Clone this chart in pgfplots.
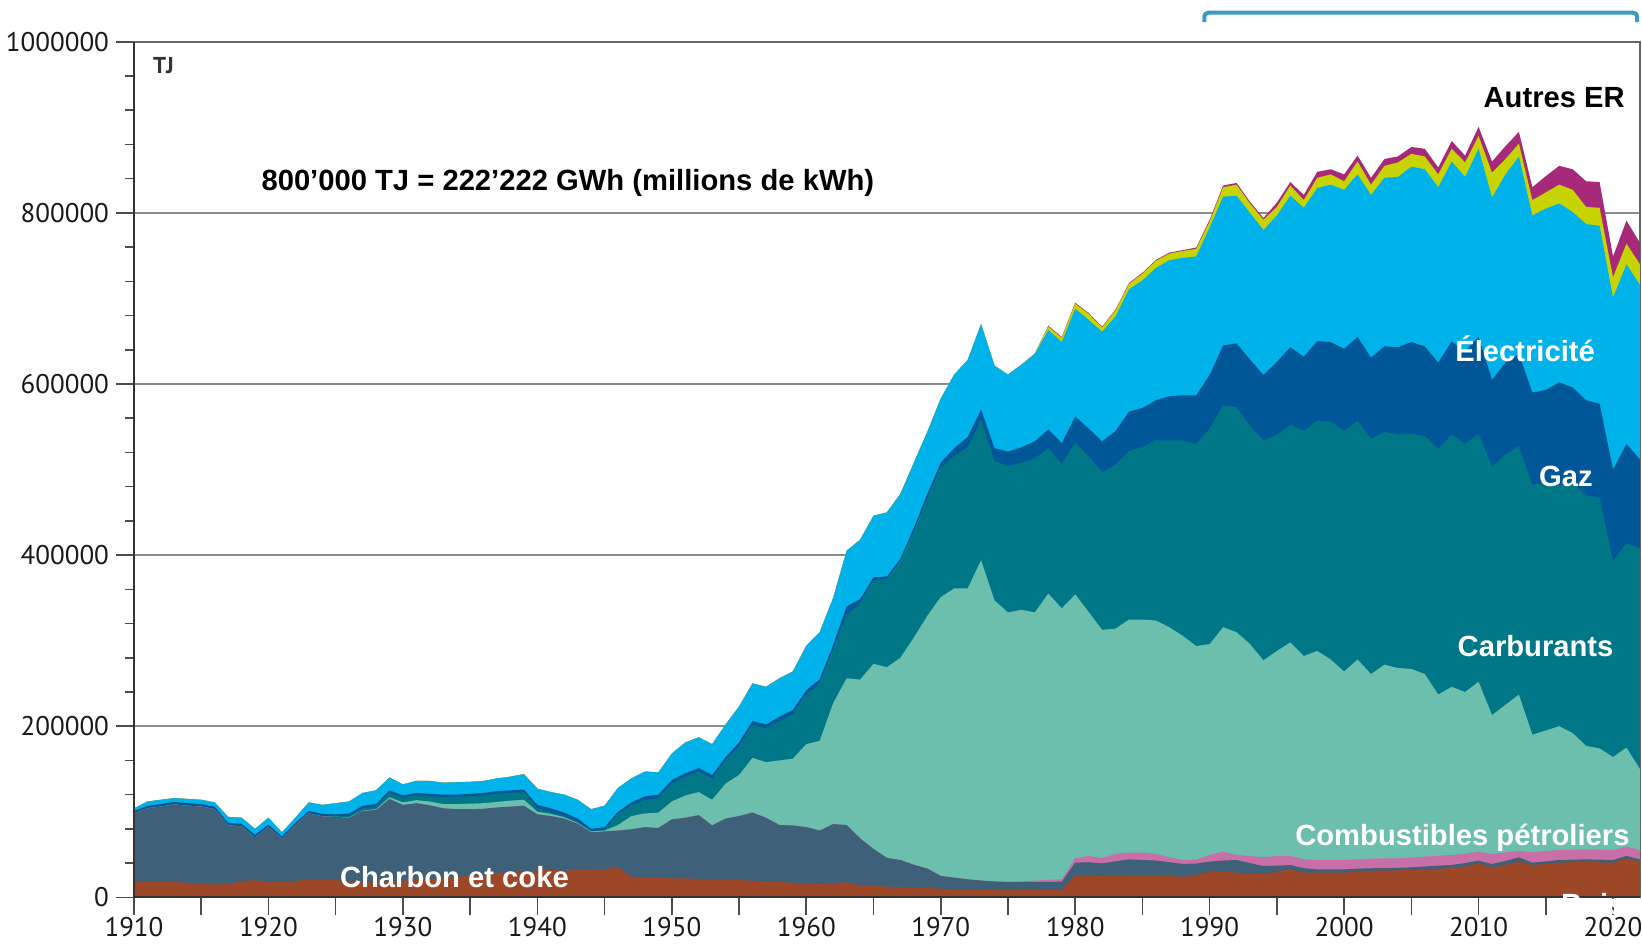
\documentclass[border=0pt]{standalone}
\usepackage{fontspec}
\setmainfont{Liberation Sans}
\newfontfamily\tickfont{PT Sans}
\usepackage{pgfplots}
\usepackage{pgfplotstable}
\pgfplotsset{compat=1.18}

\definecolor{cB}{HTML}{9C4727}
\definecolor{cC}{HTML}{3E6078}
\definecolor{cP}{HTML}{C86FA8}
\definecolor{cO}{HTML}{6CBFAC}
\definecolor{cT}{HTML}{007787}
\definecolor{cG}{HTML}{005797}
\definecolor{cE}{HTML}{00B2EA}
\definecolor{cF}{HTML}{C8D400}
\definecolor{cR}{HTML}{A6297A}
\definecolor{cBr}{HTML}{3A9AC2}

% cumulative tops, thousands of TJ
\pgfplotstableread{
year B C P O T G E F R
1910 18 98 98 98 98 101 104 104 104
1911 18.5 104 104 104 104 107 112 112 112
1912 18.5 106 106 106 106 109 114 114 114
1913 18 108.5 108.5 108.5 108.5 111.5 116 116 116
1914 17 107 107 107 107 110 115 115 115
1915 16 106 106 106 106 109 114 114 114
1916 15 103 103 103 103 106 111 111 111
1917 15.5 84 84 84 84 87 94 94 94
1918 19 83 83 83 83 86 93 93 93
1919 20 70 70 70 70 73 80 80 80
1920 18.5 82 82 82 82 85 93 93 93
1921 17.5 68.5 68.5 68.5 68.5 71 76 76 76
1922 19 84 84 84 84 87 93 93 93
1923 21 98 98 98 98.5 101 111 111 111
1924 20.5 94.5 94.5 94.5 95 97.5 108 108 108
1925 20 94 94 94 95 97 110 110 110
1926 19 93 93 93.5 95 98 112 112 112
1927 18 101 101 101.5 104 107 122 122 122
1928 18 102 102 103 106 109 125 125 125
1929 19 115 115 117 122 125 140 140 140
1930 19.5 108 108 111 116 119 132 132 132
1931 20 110 110 113.5 119 122 136 136 136
1932 21 107.5 107.5 112 118 121 136 136 136
1933 23 104 104 109 117 120 134 134 134
1934 24 103 103 109 117 120 134.5 134.5 134.5
1935 25 103 103 109.5 118 121 135 135 135
1936 26 103.5 103.5 110 119 122 136 136 136
1937 28 105 105 111.5 121 124 139 139 139
1938 30 106 106 113 122 125 141 141 141
1939 30 107 107 114 123 126 144 144 144
1940 31 97 97 100 104 108 127 127 127
1941 32 95 95 97.5 100 104 123 123 123
1942 31 92 92 93.5 95 99 120 120 120
1943 32 86 86 87 88 92 114 114 114
1944 33 76 76 77 77.5 80 103 103 103
1945 33 77 77 78 79 82 107 107 107
1946 35 78 78 84.5 97 100 128 128 128
1947 24 79.5 79.5 95 107.5 111 139 139 139
1948 24 82 82 98 114 118 147 147 147
1949 23 81 81 99 116 120 146 146 146
1950 22 91 91 112 133 137 168 168 168
1951 22 93 93 119 141 145 181 181 181
1952 21.5 96 96 123 147 151 187 187 187
1953 21 84 84 114 139 143 179 179 179
1954 20.5 92 92 133 160 164 202 202 202
1955 20 95 95 143 176.5 181 223 223 223
1956 19.5 99 99 163 201.5 206 250 250 250
1957 19 93 93 158 197.5 202 246 246 246
1958 18 84.5 84.5 160 206 211 256 256 256
1959 17 84 84 162 214 219 264 264 264
1960 16 82 82 179 237 242 294 294 294
1961 15.5 78 78 183 250 255 310 310 310
1962 16.5 85.5 85.5 227 290 295 350 350 350
1963 17.5 84.5 84.5 256 330 340 405 405 405
1964 14 69 69 254.5 344 348.5 418 418 418
1965 13 56.5 56.5 273 370 374 446 446 446
1966 12.5 46 46 269 372 375 450 450 450
1967 12 43.6 43.6 280 393 396 471.6 471.6 471.6
1968 11.5 38 38 303.7 428 432 508 508 508
1969 11 33.6 33.6 329 467 471.6 544 544 544
1970 10 25 25 351 502 508 583 583 583
1971 9.5 23 23 361 516 525 611 611 611
1972 9 21 21 361 526 538 628 628 628
1973 9 19.6 19.6 394 558 570 670 670 670
1974 8.5 18.5 18.5 347 510 525 621.5 621.5 621.5
1975 8.5 18 18 333 504 521 611 611 611
1976 8.5 18 18.5 336 508 526 622.6 622.6 622.6
1977 8.5 18 19.5 333 513 533 635 636 636
1978 8.5 18 20.5 355 525 547 663 667 668
1979 8.6 18.3 21 337.8 506 531 649 654 655
1980 26 40.5 45.6 354 532 562 688 694 695
1981 25.5 41 48.3 333.6 515 548 675 682 683
1982 25 39.7 46 312.7 497 533 661 666 667
1983 25.5 42 50.6 314 506 545 679 686 687
1984 26 44.4 52.2 324.7 522 567.7 710.7 717 718
1985 26 43.6 52.2 324.7 526 572 721 729 730
1986 26 43 50.6 323.5 534 581 735.7 744 745
1987 25 41 46.8 315.7 534 585.6 744.6 752.5 753.6
1988 24 39 43.6 305.6 534 586.8 747.6 755.5 756.5
1989 26 39.5 44 293.7 530 586.8 749 758 759.5
1990 30 41.7 49.5 296 548 610.6 783 790 792
1991 30 43 53.4 315.7 575 645 819 830 832
1992 28.8 43.6 49.5 309.8 573 647.5 820 833 835
1993 28 40 48.3 296 551 628.5 800 811 813
1994 27 36.6 46.8 277 534 610.6 780 792 794
1995 30 37 48.3 288 541 626 797 807 812
1996 32.7 37.8 48.3 298 552 643 820 832 836
1997 29 34 44.4 282 545 632 806 815 821
1998 28.8 32.7 43.6 288 557 650 829 841 848
1999 28.8 32.7 43.6 278 556 649 833 845 851
2000 28.8 32.7 43.6 264 545 641 827 837 845
2001 30 33.5 44.5 278 557 655 845 860 867
2002 31 33.9 45.2 261 536 631 821 833 841
2003 31.5 34.5 45.5 272 544 644 841 855 863
2004 31.5 34.5 45.5 268 541 643 842 859 866
2005 32 35 46.5 267 542 649 854 869 877
2006 33 36 47.5 261 539 644 851 866 875
2007 33.5 37 48.5 237 524 625 830 845 853
2008 34 37.8 49.5 246 541 650 860 875 884
2009 36 40 51 240 530 638 842 859 867
2010 39.7 42.9 53.4 252 542 655 875 890 900.6
2011 35 39 50.6 213 503 605 818 847 860
2012 38 42.5 52.5 225 518 625 845 863 878
2013 41.7 46.7 54.5 237 527 635 866 881 894.7
2014 37.8 40.5 52.5 190 482 590 797 815 830
2015 39 42 54 195 485 593 805 824 843
2016 40.5 43.6 55.3 200 482 602 811 833 855
2017 41 44 55.6 192 484 596 801 827 851
2018 41.7 44.4 56 177 470 581 787 807 837
2019 41 44 55.6 174 467 577 785 806 836
2020 40.5 43.6 55.3 164 393 500 701 725 749
2021 45.6 48.3 59.2 175 414 530 740 764 791
2022 41.7 44.4 55.3 150 408 512 716 740 765
}\data

\begin{document}
\begin{tikzpicture}
\begin{axis}[
  scale only axis, width=752.95pt, height=427.75pt,
  xmin=1910, xmax=2022, ymin=0, ymax=1000,
  xtick={1910,1915,...,2020},
  xticklabels={1910,,1920,,1930,,1940,,1950,,1960,,1970,,1980,,1990,,2000,,2010,,2020},
  ytick={0,200,...,1000},
  yticklabels={0,200000,400000,600000,800000,1000000},
  minor y tick num=4,
  tick align=outside,
  xtick pos=bottom, ytick pos=left,
  major tick length=9pt, minor tick length=4.5pt,
  tick style={black!70, line width=0.8pt},
  ymajorgrids, grid style={black!45, line width=0.8pt},
  axis line style={black!60, line width=1pt},
  ticklabel style={font=\tickfont\fontsize{13.5}{13.5}\selectfont, text=black!90},
  xticklabel style={inner sep=1pt, yshift=0pt},
  clip=false,
]
\addplot[fill=cR, draw=none] table[x=year,y=R]{\data} \closedcycle;
\addplot[fill=cF, draw=none] table[x=year,y=F]{\data} \closedcycle;
\addplot[fill=cE, draw=none] table[x=year,y=E]{\data} \closedcycle;
\addplot[fill=cG, draw=none] table[x=year,y=G]{\data} \closedcycle;
\addplot[fill=cT, draw=none] table[x=year,y=T]{\data} \closedcycle;
\addplot[fill=cO, draw=none] table[x=year,y=O]{\data} \closedcycle;
\addplot[fill=cP, draw=none] table[x=year,y=P]{\data} \closedcycle;
\addplot[fill=cC, draw=none] table[x=year,y=C]{\data} \closedcycle;
\addplot[fill=cB, draw=none] table[x=year,y=B]{\data} \closedcycle;

\draw[black!80, line width=1.1pt] (axis cs:1910,1000) -- (axis cs:1910,0) -- (axis cs:2022,0);

\node[anchor=west, font=\tickfont\bfseries\fontsize{11.5}{11.5}\selectfont, text=black!80] at (axis cs:1910.9,972) {TJ};
\node[anchor=west, font=\bfseries\fontsize{14.6}{17}\selectfont] at (axis cs:1918.96,835) {800’000 TJ = 222’222 GWh (millions de kWh)};
\node[anchor=east, font=\bfseries\fontsize{14.6}{17}\selectfont] at (axis cs:2021.4,934.5) {Autres ER};
\node[font=\bfseries\fontsize{14.6}{17}\selectfont, text=white] at (axis cs:2013.46,641) {Électricité};
\node[font=\bfseries\fontsize{14.6}{17}\selectfont, text=white] at (axis cs:2016.5,491.7) {Gaz};
\node[font=\bfseries\fontsize{14.6}{17}\selectfont, text=white] at (axis cs:2014.24,293.6) {Carburants};
\node[font=\bfseries\fontsize{14.6}{17}\selectfont, text=white] at (axis cs:2008.8,69.7) {Combustibles pétroliers};
\node[font=\bfseries\fontsize{14.6}{17}\selectfont, text=white] at (axis cs:1933.83,23.2) {Charbon et coke};
\node[font=\bfseries\fontsize{14.6}{17}\selectfont, text=white, inner sep=0pt] at (axis cs:2018.5,-8) {Bois};

\draw[cBr, line width=2pt, rounded corners=2pt] (axis cs:1989.6,1023) -- (axis cs:1989.6,1034) -- (axis cs:2021.8,1034) -- (axis cs:2021.8,1023);
\end{axis}
\pgfresetboundingbox
\useasboundingbox (-67pt,-23.3pt) rectangle (754pt,448.65pt);
\end{tikzpicture}
\end{document}
